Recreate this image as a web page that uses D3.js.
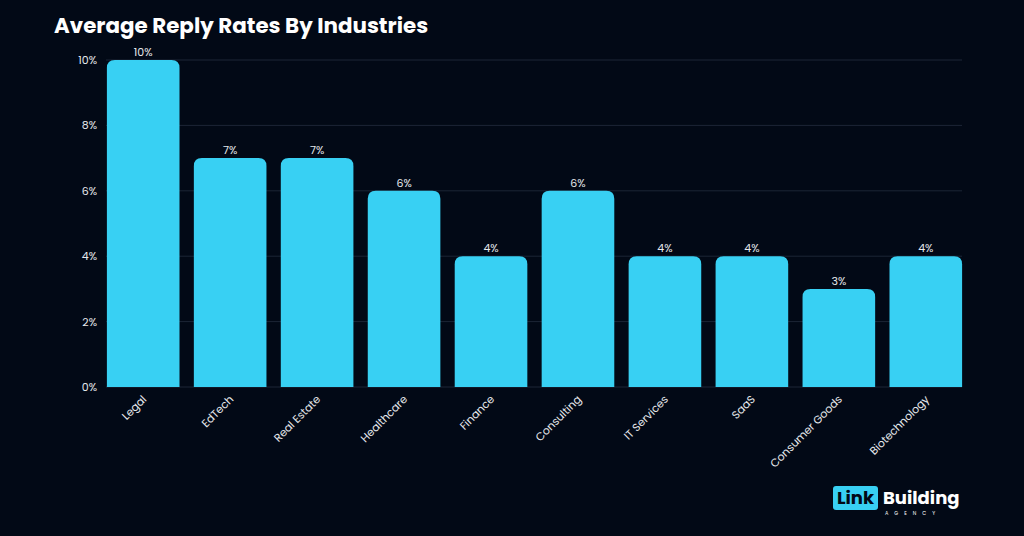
<!DOCTYPE html><html><head><meta charset="utf-8"><script src="https://cdn.jsdelivr.net/npm/d3@7"></script>
<style>body{margin:0;background:#020916}svg{display:block}</style></head><body><svg width="1024" height="536"></svg><script>
const categories=["Legal","EdTech","Real Estate","Healthcare","Finance","Consulting","IT Services","SaaS","Consumer Goods","Biotechnology"];
const values=[10,7,7,6,4,6,4,4,3,4];
const ticks=[0,2,4,6,8,10];
const svg=d3.select("svg");
svg.append("rect").attr("width",1024).attr("height",536).attr("fill","#020916");
const x=d3.scaleBand().domain(categories).range([99.5,969.5]).paddingInner(0.165).paddingOuter(0.085);
const y=d3.scaleLinear().domain([0,10]).range([387,60]);
const font="Poppins, 'Open Sans', sans-serif";
svg.append("text").attr("x",54).attr("y",33).attr("fill","#fff").attr("font-family",font).attr("font-weight",700).attr("font-size",21.4).text("Average Reply Rates By Industries");
svg.selectAll("line.g").data(ticks).join("line").attr("x1",106).attr("x2",962).attr("y1",d=>y(d)).attr("y2",d=>y(d)).attr("stroke","#1c2636").attr("stroke-width",1);
svg.selectAll("text.t").data(ticks).join("text").attr("x",97).attr("y",d=>y(d)+4).attr("text-anchor","end").attr("fill","#e6e8ec").attr("font-family",font).attr("font-size",11).text(d=>d+"%");
const r=8;
svg.selectAll("path.b").data(values).join("path").attr("fill","#38d0f3").attr("d",(d,i)=>{const x0=x(categories[i]),w=x.bandwidth(),y0=y(d),yb=y(0);return `M${x0},${yb}V${y0+r}Q${x0},${y0} ${x0+r},${y0}H${x0+w-r}Q${x0+w},${y0} ${x0+w},${y0+r}V${yb}Z`;});
svg.selectAll("text.v").data(values).join("text").attr("x",(d,i)=>x(categories[i])+x.bandwidth()/2).attr("y",d=>y(d)-4).attr("text-anchor","middle").attr("fill","#e6e8ec").attr("font-family",font).attr("font-size",11).text(d=>d+"%");
svg.selectAll("text.c").data(categories).join("text").attr("transform",d=>`translate(${x(d)+x.bandwidth()/2+4},${400}) rotate(-45)`).attr("text-anchor","end").attr("fill","#e6e8ec").attr("font-family",font).attr("font-size",11).text(d=>d);
const lg=svg.append("g").attr("transform","translate(833,486)");
lg.append("rect").attr("width",45).attr("height",24).attr("rx",3).attr("fill","#38d0f3");
lg.append("text").attr("x",22.5).attr("y",18).attr("text-anchor","middle").attr("font-family",font).attr("font-weight",700).attr("font-size",18).attr("fill","#020916").text("Link");
lg.append("text").attr("x",50).attr("y",18).attr("font-family",font).attr("font-weight",700).attr("font-size",18).attr("fill","#fff").text("Building");
lg.append("text").attr("x",52).attr("y",29).attr("font-family",font).attr("font-size",5).attr("letter-spacing",6).attr("fill","#fff").text("AGENCY");
</script></body></html>
